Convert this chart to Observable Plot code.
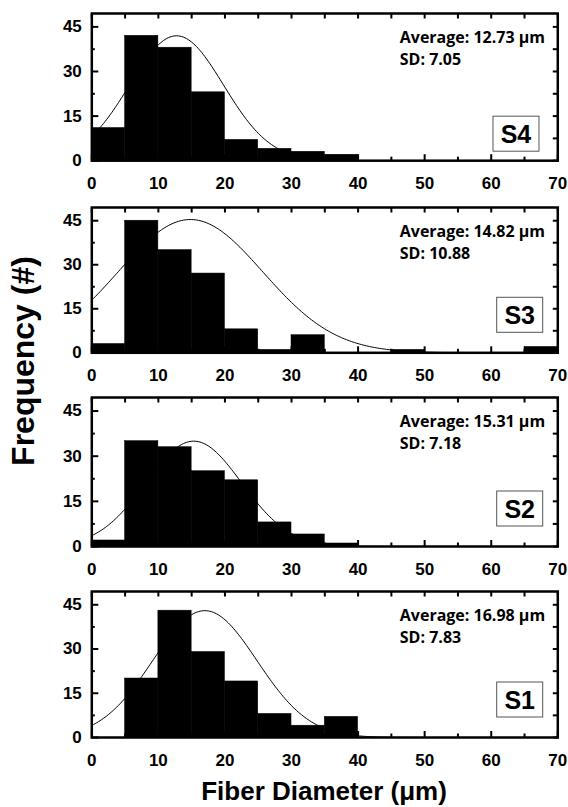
<!DOCTYPE html>
<html>
<head>
<meta charset="utf-8">
<script src="https://cdn.jsdelivr.net/npm/d3@7"></script>
<script src="https://cdn.jsdelivr.net/npm/@observablehq/plot@0.6"></script>
<style>
  html, body { margin: 0; padding: 0; background: #fff; }
  #chart { position: relative; width: 568px; height: 807px; background: #fff; overflow: hidden; }
  #chart svg { position: absolute; left: 0; overflow: visible; }
  .ytitle { position: absolute; left: 23px; top: 361px; transform: translate(-50%, -50%) rotate(-90deg);
    font-family: "Liberation Sans"; font-weight: bold; font-size: 32px; white-space: nowrap; color: #000; }
  .xtitle { position: absolute; left: 324px; top: 801px; transform: translate(-50%, -80%);
    font-family: "Liberation Sans"; font-weight: bold; font-size: 26px; white-space: nowrap; color: #000; }
</style>
</head>
<body>
<div id="chart"></div>
<script>
// ---- data ----
const binStarts = [0, 5, 10, 15, 20, 25, 30, 35, 40, 45, 50, 55, 60, 65];
const binWidth = 5;
const sampleNames = ["S4", "S3", "S2", "S1"];
const s4Counts = [11, 42, 38, 23, 7, 4, 3, 2, 0, 0, 0, 0, 0, 0];
const s3Counts = [3, 45, 35, 27, 8, 1, 6, 0, 0, 1, 0, 0, 0, 2];
const s2Counts = [2, 35, 33, 25, 22, 8, 4, 1, 0, 0, 0, 0, 0, 0];
const s1Counts = [0, 20, 43, 29, 19, 8, 4, 7, 0, 0, 0, 0, 0, 0];
const averages = [12.73, 14.82, 15.31, 16.98];
const sds = [7.05, 10.88, 7.18, 7.83];
const curvePeaks = [42, 45.4, 35, 43];
const xTicks = [0, 10, 20, 30, 40, 50, 60, 70];
const xMinorTicks = [5, 15, 25, 35, 45, 55, 65];
const yTicks = [0, 15, 30, 45];
const yMinorTicks = [7.5, 22.5, 37.5];
const allCounts = [s4Counts, s3Counts, s2Counts, s1Counts];

// ---- layout ----
const W = 568;
const frameLeft = 91.3, frameRight = 557.3;
const frameTops = [13.3, 206.7, 396.7, 590.7];
const frameHeights = [147.2, 145.3, 149, 146];
const boxRight = [539, 542.7, 542.7, 542.7];
const boxGap = [9, 20, 20, 20];
const mt = 6, mb = 34;

const chart = document.getElementById("chart");
const font = "Liberation Sans";

sampleNames.forEach((name, i) => {
  const counts = allCounts[i];
  const bars = binStarts.map((b, j) => ({x1: b, x2: b + binWidth, count: counts[j]}));
  const xs = d3.range(0, 70.001, 0.25);
  const curve = xs.map(x => ({x, y: curvePeaks[i] * Math.exp(-((x - averages[i]) ** 2) / (2 * sds[i] ** 2))}));
  const h = frameHeights[i];
  const annot = [`Average: ${averages[i].toFixed(2)} µm\nSD: ${sds[i].toFixed(2)}`];
  const svg = Plot.plot({
    width: W,
    height: mt + h + mb,
    marginLeft: frameLeft,
    marginRight: W - frameRight,
    marginTop: mt,
    marginBottom: mb,
    x: {domain: [0, 70]},
    y: {domain: [0, 49.5]},
    style: {fontFamily: font, fontWeight: "bold", fontSize: "17px", color: "black", background: "transparent"},
    marks: [
      Plot.line(curve, {x: "x", y: "y", stroke: "black", strokeWidth: 1}),
      Plot.rectY(bars, {x1: "x1", x2: "x2", y: "count", fill: "black", stroke: "black", strokeWidth: 0.5, inset: 0}),
      // inward ticks
      Plot.axisX(xTicks, {anchor: "bottom", tickSize: -6, strokeWidth: 2, tickFormat: () => "", label: null}),
      Plot.axisX(xMinorTicks, {anchor: "bottom", tickSize: -3.5, strokeWidth: 2, tickFormat: () => "", label: null}),
      Plot.axisX(xTicks.concat(xMinorTicks), {anchor: "top", tickSize: -4.5, strokeWidth: 2, tickFormat: () => "", label: null}),
      Plot.axisY(yTicks, {anchor: "left", tickSize: -7, strokeWidth: 2, tickFormat: () => "", label: null}),
      Plot.axisY(yMinorTicks, {anchor: "left", tickSize: -3.5, strokeWidth: 2, tickFormat: () => "", label: null}),
      Plot.axisY(yTicks.concat(yMinorTicks), {anchor: "right", tickSize: -5.5, strokeWidth: 2, tickFormat: () => "", label: null}),
      // tick labels
      Plot.axisX(xTicks, {anchor: "bottom", tickSize: 0, tickPadding: 16, fontSize: 17, fontWeight: "bold", fontFamily: font, label: null}),
      Plot.axisY(yTicks, {anchor: "left", tickSize: 0, tickPadding: 10, fontSize: 17, fontWeight: "bold", fontFamily: font, label: null}),
      Plot.frame({stroke: "black", strokeWidth: 2.5}),
      Plot.text(annot, {text: d => d, frameAnchor: "top-left", dx: 308, dy: 13.5, textAnchor: "start", lineAnchor: "top",
        fontFamily: "Open Sans", fontWeight: "bold", fontSize: 16, lineHeight: 1.375})
    ]
  });
  svg.style.top = (frameTops[i] - mt) + "px";
  // sample label box
  const bw = 46, bh = 35;
  const by = mt + h - boxGap[i] - bh;
  const bx = boxRight[i] - bw;
  const g = d3.select(svg).append("g");
  g.append("rect").attr("x", bx).attr("y", by).attr("width", bw).attr("height", bh)
    .attr("fill", "white").attr("stroke", "#555").attr("stroke-width", 1);
  g.append("text").attr("x", bx + bw / 2).attr("y", by + bh / 2).attr("dy", "0.36em")
    .attr("text-anchor", "middle").attr("font-family", font).attr("font-weight", "bold")
    .attr("font-size", 25).attr("fill", "black").text(name);
  chart.appendChild(svg);
});

const yt = document.createElement("div");
yt.className = "ytitle";
yt.textContent = "Frequency (#)";
chart.appendChild(yt);
const xt = document.createElement("div");
xt.className = "xtitle";
xt.textContent = "Fiber Diameter (μm)";
chart.appendChild(xt);
</script>
</body>
</html>
